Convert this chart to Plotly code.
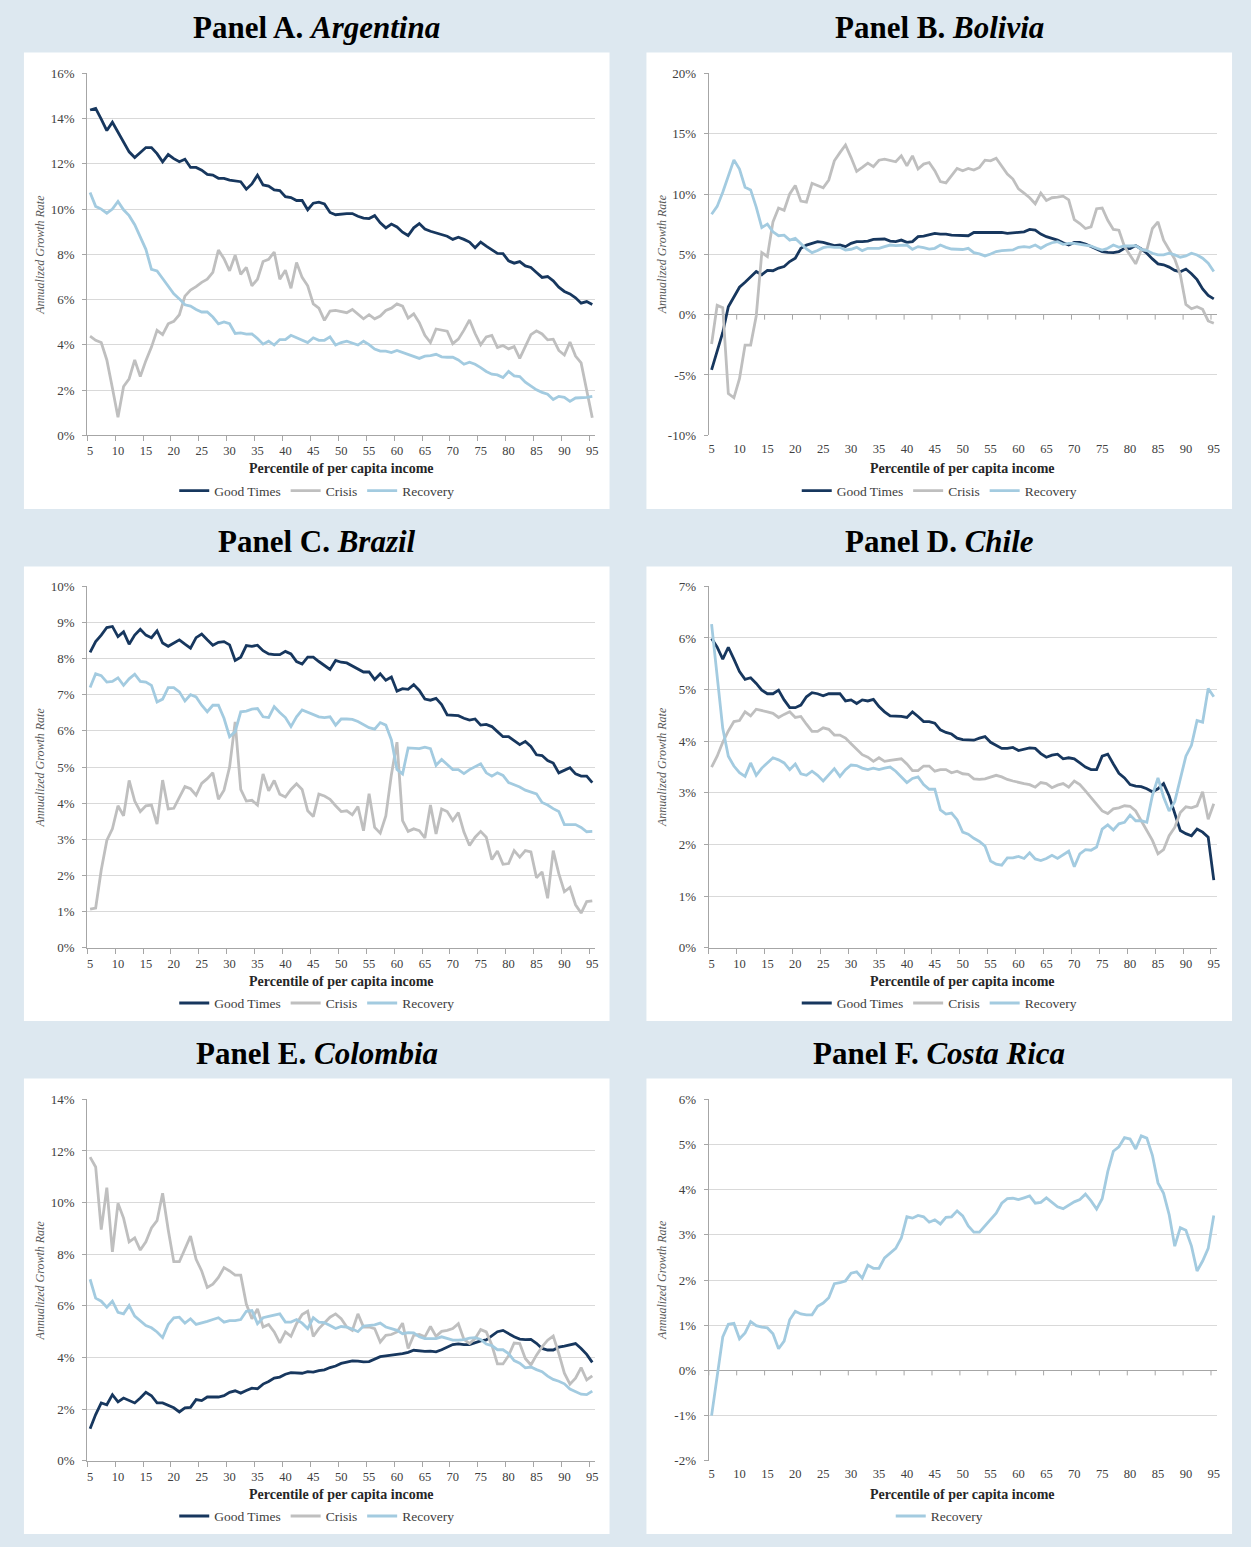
import plotly.graph_objects as go

W, H = 1251, 1547

# Percentiles of per capita income on the category axis
PCT = list(range(5, 96))
X_TICKS = list(range(5, 96, 5))

# ---------------- Panel A. Argentina ----------------
ARG_GOOD = [14.38, 14.45, 13.98, 13.47, 13.84, 13.4, 12.92, 12.53, 12.28, 12.48,
            12.72, 12.72, 12.45, 12.09, 12.41, 12.23, 12.09, 12.2, 11.84, 11.84,
            11.72, 11.53, 11.5, 11.36, 11.36, 11.28, 11.26, 11.21, 10.88, 11.11,
            11.5, 11.07, 11.02, 10.85, 10.82, 10.55, 10.51, 10.38, 10.38, 9.97,
            10.26, 10.31, 10.23, 9.85, 9.75, 9.78, 9.8, 9.8, 9.68, 9.6,
            9.58, 9.71, 9.39, 9.17, 9.34, 9.21, 8.98, 8.83, 9.17, 9.36,
            9.12, 9.02, 8.95, 8.85, 8.8, 8.66, 8.76, 8.66, 8.54, 8.29,
            8.54, 8.36, 8.19, 8.04, 8.03, 7.71, 7.61, 7.68, 7.49, 7.42,
            7.2, 6.98, 7.02, 6.83, 6.55, 6.36, 6.25, 6.08, 5.84, 5.91,
            5.78]
ARG_CRISIS = [4.38, 4.2, 4.1, 3.33, 2.09, 0.8, 2.16, 2.5, 3.33, 2.6,
              3.3, 3.9, 4.64, 4.45, 4.93, 5.04, 5.33, 6.15, 6.42, 6.57,
              6.76, 6.9, 7.2, 8.19, 7.81, 7.27, 7.96, 7.12, 7.42, 6.61,
              6.9, 7.68, 7.78, 8.1, 6.9, 7.3, 6.5, 7.64, 6.98, 6.61,
              5.81, 5.62, 5.08, 5.49, 5.52, 5.47, 5.42, 5.56, 5.37, 5.15,
              5.33, 5.15, 5.27, 5.52, 5.62, 5.81, 5.71, 5.18, 5.37, 4.98,
              4.42, 4.1, 4.7, 4.64, 4.6, 4.05, 4.25, 4.65, 5.1, 4.5,
              4.0, 4.35, 4.42, 3.88, 3.97, 3.82, 3.92, 3.4, 3.95, 4.45,
              4.62, 4.48, 4.22, 4.25, 3.75, 3.55, 4.12, 3.5, 3.2, 2.0,
              0.78]
ARG_RECOVERY = [10.73, 10.12, 10.0, 9.82, 10.0, 10.34, 9.97, 9.71, 9.31, 8.8,
                8.22, 7.34, 7.27, 6.93, 6.57, 6.25, 6.03, 5.77, 5.71, 5.56,
                5.45, 5.45, 5.23, 4.93, 5.01, 4.93, 4.5, 4.53, 4.47, 4.48,
                4.28, 4.03, 4.16, 3.99, 4.23, 4.23, 4.42, 4.31, 4.2, 4.1,
                4.31, 4.2, 4.2, 4.35, 3.99, 4.1, 4.16, 4.06, 3.99, 4.16,
                4.01, 3.81, 3.72, 3.72, 3.66, 3.75, 3.66, 3.58, 3.47, 3.4,
                3.5, 3.52, 3.58, 3.47, 3.45, 3.45, 3.33, 3.14, 3.23, 3.14,
                2.99, 2.82, 2.7, 2.67, 2.55, 2.82, 2.63, 2.6, 2.35, 2.16,
                2.01, 1.9, 1.82, 1.58, 1.72, 1.68, 1.5, 1.65, 1.65, 1.68,
                1.72]

# ---------------- Panel B. Bolivia ----------------
BOL_GOOD = [-4.57, -3.12, -1.48, 0.66, 1.53, 2.27, 2.68, 3.17, 3.58, 3.31,
            3.67, 3.64, 3.86, 3.99, 4.4, 4.68, 5.5, 5.77, 5.91, 6.05,
            5.99, 5.86, 5.72, 5.77, 5.64, 5.91, 6.05, 6.05, 6.1, 6.24,
            6.27, 6.27, 6.1, 6.05, 6.18, 5.99, 6.05, 6.46, 6.51, 6.59,
            6.73, 6.68, 6.68, 6.59, 6.59, 6.6, 6.54, 6.81, 6.81, 6.81,
            6.81, 6.87, 6.81, 6.73, 6.79, 6.79, 6.87, 7.06, 7.0, 6.68,
            6.46, 6.32, 6.18, 5.96, 5.77, 5.99, 5.99, 5.86, 5.64, 5.42,
            5.23, 5.17, 5.14, 5.23, 5.5, 5.47, 5.72, 5.44, 5.09, 4.62,
            4.21, 4.13, 3.94, 3.67, 3.56, 3.78, 3.39, 2.9, 2.13, 1.59,
            1.31]
BOL_CRISIS = [-2.43, 0.77, 0.57, -6.54, -6.89, -5.31, -2.52, -2.52, -0.11, 5.14,
              4.82, 7.69, 8.84, 8.65, 10.01, 10.7, 9.41, 9.33, 10.89, 10.7,
              10.51, 11.16, 12.75, 13.43, 14.06, 13.02, 11.87, 12.2, 12.56, 12.26,
              12.8, 12.89, 12.75, 12.67, 13.16, 12.34, 13.16, 12.07, 12.48, 12.61,
              11.93, 11.03, 10.92, 11.52, 12.12, 11.93, 12.12, 11.98, 12.2, 12.8,
              12.75, 12.97, 12.26, 11.66, 11.24, 10.42, 10.07, 9.69, 9.19, 10.07,
              9.47, 9.69, 9.74, 9.82, 9.52, 7.88, 7.55, 7.14, 7.28, 8.78,
              8.84, 7.82, 7.06, 7.0, 5.64, 4.95, 4.21, 5.36, 5.36, 7.14,
              7.69, 6.18, 5.36, 4.6, 3.31, 0.85, 0.49, 0.66, 0.44, -0.52,
              -0.71]
BOL_RECOVERY = [8.32, 8.97, 10.15, 11.49, 12.83, 12.07, 10.56, 10.34, 8.92, 7.22,
                7.5, 6.87, 6.54, 6.59, 6.18, 6.32, 5.91, 5.44, 5.14, 5.31,
                5.55, 5.64, 5.58, 5.58, 5.36, 5.42, 5.58, 5.31, 5.5, 5.5,
                5.5, 5.64, 5.77, 5.72, 5.72, 5.77, 5.42, 5.64, 5.55, 5.44,
                5.5, 5.77, 5.58, 5.44, 5.42, 5.4, 5.5, 5.14, 5.03, 4.87,
                5.03, 5.23, 5.31, 5.36, 5.36, 5.58, 5.64, 5.58, 5.77, 5.5,
                5.77, 5.96, 6.05, 5.83, 5.91, 5.91, 5.83, 5.72, 5.69, 5.5,
                5.36, 5.5, 5.77, 5.58, 5.69, 5.69, 5.72, 5.42, 5.31, 5.09,
                4.95, 4.95, 5.09, 4.95, 4.76, 4.87, 5.09, 4.95, 4.68, 4.27,
                3.58]

# ---------------- Panel C. Brazil ----------------
BRA_GOOD = [8.17, 8.47, 8.65, 8.86, 8.89, 8.61, 8.74, 8.4, 8.65, 8.81,
            8.65, 8.58, 8.77, 8.43, 8.34, 8.43, 8.52, 8.4, 8.29, 8.58,
            8.68, 8.52, 8.37, 8.45, 8.47, 8.38, 7.95, 8.04, 8.36, 8.34,
            8.37, 8.22, 8.13, 8.11, 8.11, 8.2, 8.13, 7.92, 7.85, 8.04,
            8.04, 7.92, 7.81, 7.7, 7.95, 7.9, 7.88, 7.79, 7.72, 7.63,
            7.63, 7.42, 7.58, 7.4, 7.49, 7.1, 7.17, 7.15, 7.28, 7.12,
            6.88, 6.85, 6.9, 6.73, 6.44, 6.44, 6.42, 6.35, 6.3, 6.33,
            6.16, 6.18, 6.12, 5.98, 5.84, 5.84, 5.73, 5.62, 5.71, 5.57,
            5.34, 5.32, 5.18, 5.11, 4.84, 4.9, 4.98, 4.81, 4.75, 4.75,
            4.57]
BRA_CRISIS = [1.07, 1.1, 2.15, 2.97, 3.29, 3.93, 3.65, 4.63, 4.06, 3.77,
              3.93, 3.95, 3.42, 4.64, 3.84, 3.86, 4.16, 4.46, 4.4, 4.22,
              4.55, 4.68, 4.84, 4.11, 4.36, 5.0, 6.25, 4.38, 4.06, 4.08,
              3.95, 4.81, 4.34, 4.63, 4.25, 4.17, 4.38, 4.54, 4.38, 3.79,
              3.63, 4.25, 4.2, 4.11, 3.93, 3.77, 3.79, 3.68, 3.91, 3.24,
              4.26, 3.33, 3.17, 3.65, 4.79, 5.69, 3.52, 3.22, 3.29, 3.24,
              3.04, 3.95, 3.15, 3.84, 3.77, 3.52, 3.74, 3.2, 2.83, 3.06,
              3.22, 3.06, 2.44, 2.68, 2.31, 2.33, 2.69, 2.51, 2.69, 2.65,
              1.94, 2.1, 1.37, 2.69, 2.05, 1.55, 1.67, 1.19, 0.96, 1.28,
              1.3]
BRA_RECOVERY = [7.2, 7.58, 7.53, 7.35, 7.37, 7.47, 7.26, 7.44, 7.57, 7.37,
                7.35, 7.26, 6.8, 6.88, 7.2, 7.2, 7.08, 6.83, 7.0, 6.94,
                6.71, 6.53, 6.71, 6.71, 6.35, 5.84, 5.98, 6.53, 6.55, 6.6,
                6.62, 6.39, 6.37, 6.67, 6.51, 6.37, 6.12, 6.39, 6.58, 6.51,
                6.46, 6.39, 6.37, 6.39, 6.16, 6.33, 6.33, 6.32, 6.26, 6.18,
                6.09, 6.05, 6.23, 6.16, 5.75, 4.93, 4.81, 5.53, 5.53, 5.51,
                5.55, 5.51, 5.05, 5.21, 5.07, 4.93, 4.93, 4.82, 4.93, 5.02,
                5.09, 4.84, 4.75, 4.84, 4.77, 4.57, 4.52, 4.45, 4.36, 4.32,
                4.26, 4.02, 3.95, 3.85, 3.77, 3.41, 3.42, 3.41, 3.33, 3.21,
                3.22]

# ---------------- Panel D. Chile ----------------
CHL_GOOD = [5.99, 5.82, 5.59, 5.82, 5.59, 5.35, 5.2, 5.23, 5.12, 4.99,
            4.92, 4.92, 4.99, 4.8, 4.65, 4.65, 4.7, 4.86, 4.94, 4.92,
            4.88, 4.92, 4.92, 4.92, 4.78, 4.8, 4.73, 4.8, 4.78, 4.81,
            4.67, 4.57, 4.49, 4.49, 4.48, 4.46, 4.57, 4.48, 4.38, 4.38,
            4.35, 4.22, 4.17, 4.14, 4.06, 4.03, 4.03, 4.02, 4.06, 4.09,
            3.98, 3.92, 3.86, 3.86, 3.88, 3.82, 3.84, 3.87, 3.86, 3.76,
            3.69, 3.73, 3.75, 3.66, 3.68, 3.66, 3.58, 3.5, 3.45, 3.45,
            3.71, 3.75, 3.56, 3.38, 3.29, 3.16, 3.13, 3.12, 3.08, 3.02,
            3.08, 3.18, 2.94, 2.6, 2.27, 2.21, 2.17, 2.3, 2.24, 2.14,
            1.31]
CHL_CRISIS = [3.5, 3.71, 3.98, 4.2, 4.38, 4.4, 4.57, 4.49, 4.62, 4.6,
              4.57, 4.54, 4.46, 4.52, 4.57, 4.46, 4.48, 4.33, 4.19, 4.19,
              4.26, 4.23, 4.12, 4.12, 4.06, 3.95, 3.84, 3.74, 3.69, 3.61,
              3.68, 3.61, 3.63, 3.64, 3.66, 3.56, 3.43, 3.43, 3.52, 3.52,
              3.42, 3.45, 3.45, 3.39, 3.42, 3.37, 3.36, 3.27, 3.26, 3.27,
              3.31, 3.34, 3.31, 3.26, 3.23, 3.2, 3.18, 3.16, 3.11, 3.2,
              3.18, 3.1, 3.15, 3.18, 3.11, 3.23, 3.16, 3.04, 2.91, 2.78,
              2.65, 2.6, 2.69, 2.71, 2.75, 2.74, 2.65, 2.46, 2.28, 2.08,
              1.82, 1.9, 2.17, 2.33, 2.62, 2.73, 2.71, 2.75, 3.02, 2.49,
              2.79]
CHL_RECOVERY = [6.27, 5.27, 4.25, 3.71, 3.52, 3.39, 3.32, 3.58, 3.34, 3.48,
                3.58, 3.68, 3.64, 3.58, 3.45, 3.56, 3.37, 3.34, 3.42, 3.34,
                3.23, 3.34, 3.47, 3.32, 3.45, 3.54, 3.53, 3.48, 3.45, 3.48,
                3.45, 3.48, 3.5, 3.42, 3.31, 3.2, 3.28, 3.31, 3.16, 3.07,
                3.07, 2.67, 2.59, 2.61, 2.48, 2.24, 2.2, 2.12, 2.06, 1.97,
                1.68, 1.62, 1.6, 1.74, 1.74, 1.77, 1.73, 1.84, 1.72, 1.69,
                1.73, 1.79, 1.73, 1.8, 1.87, 1.57, 1.82, 1.9, 1.89, 1.95,
                2.3, 2.38, 2.28, 2.4, 2.43, 2.57, 2.46, 2.46, 2.43, 2.95,
                3.29, 2.92, 2.65, 2.83, 3.29, 3.71, 3.92, 4.4, 4.37, 5.02,
                4.86]

# ---------------- Panel E. Colombia ----------------
COL_GOOD = [1.24, 1.79, 2.24, 2.17, 2.56, 2.28, 2.43, 2.34, 2.24, 2.43,
            2.65, 2.52, 2.24, 2.24, 2.14, 2.05, 1.89, 2.05, 2.07, 2.37,
            2.33, 2.47, 2.47, 2.47, 2.52, 2.65, 2.71, 2.62, 2.72, 2.81,
            2.79, 2.97, 3.07, 3.2, 3.24, 3.35, 3.41, 3.39, 3.39, 3.45,
            3.43, 3.49, 3.52, 3.61, 3.67, 3.77, 3.83, 3.87, 3.86, 3.83,
            3.84, 3.94, 4.03, 4.06, 4.08, 4.12, 4.15, 4.2, 4.28, 4.25,
            4.24, 4.25, 4.22, 4.3, 4.4, 4.5, 4.53, 4.5, 4.5, 4.58,
            4.64, 4.68, 4.85, 5.0, 5.05, 4.92, 4.8, 4.71, 4.69, 4.7,
            4.55, 4.35, 4.29, 4.29, 4.4, 4.44, 4.5, 4.54, 4.35, 4.12,
            3.81]
COL_CRISIS = [11.76, 11.38, 8.95, 10.58, 8.09, 9.97, 9.4, 8.48, 8.63, 8.16,
              8.48, 9.02, 9.3, 10.36, 8.95, 7.71, 7.71, 8.18, 8.7, 7.8,
              7.35, 6.71, 6.84, 7.1, 7.48, 7.35, 7.19, 7.19, 6.07, 5.5,
              5.88, 5.18, 5.28, 4.99, 4.57, 4.99, 4.82, 5.31, 5.66, 5.79,
              4.82, 5.12, 5.33, 5.56, 5.69, 5.5, 5.18, 5.05, 5.69, 5.18,
              5.18, 5.12, 4.6, 4.86, 4.89, 4.99, 5.33, 4.35, 4.86, 4.89,
              4.8, 5.2, 4.82, 5.01, 5.05, 5.12, 5.31, 4.7, 4.54, 4.73,
              5.08, 4.99, 4.48, 3.75, 3.75, 4.07, 4.56, 4.54, 3.96, 3.71,
              4.09, 4.41, 4.67, 4.83, 4.16, 3.39, 2.97, 3.2, 3.61, 3.13,
              3.29]
COL_RECOVERY = [7.03, 6.3, 6.18, 5.95, 6.18, 5.75, 5.69, 6.01, 5.6, 5.41,
                5.24, 5.15, 4.99, 4.77, 5.28, 5.54, 5.56, 5.33, 5.5, 5.28,
                5.33, 5.4, 5.47, 5.54, 5.37, 5.43, 5.43, 5.47, 5.79, 5.82,
                5.31, 5.54, 5.59, 5.63, 5.69, 5.37, 5.37, 5.47, 5.33, 5.12,
                5.54, 5.37, 5.35, 5.24, 5.12, 5.2, 5.18, 5.1, 5.0, 5.22,
                5.24, 5.26, 5.33, 5.18, 5.12, 5.05, 4.92, 4.96, 4.95, 4.8,
                4.73, 4.73, 4.73, 4.8, 4.72, 4.67, 4.67, 4.69, 4.75, 4.77,
                4.7, 4.52, 4.46, 4.3, 4.3, 4.15, 3.88, 3.78, 3.6, 3.63,
                3.53, 3.45, 3.28, 3.15, 3.08, 2.98, 2.78, 2.68, 2.58, 2.56,
                2.7]

# ---------------- Panel F. Costa Rica ----------------
CRI_RECOVERY = [-1.0, -0.1, 0.74, 1.02, 1.04, 0.7, 0.83, 1.08, 0.99, 0.96,
                0.94, 0.81, 0.48, 0.65, 1.12, 1.31, 1.25, 1.23, 1.23, 1.42,
                1.49, 1.61, 1.92, 1.94, 1.98, 2.15, 2.18, 2.04, 2.33, 2.26,
                2.26, 2.49, 2.6, 2.7, 2.93, 3.4, 3.37, 3.43, 3.4, 3.28,
                3.33, 3.24, 3.39, 3.4, 3.53, 3.42, 3.2, 3.06, 3.06, 3.2,
                3.32, 3.48, 3.7, 3.8, 3.81, 3.78, 3.82, 3.86, 3.7, 3.72,
                3.82, 3.72, 3.62, 3.58, 3.65, 3.73, 3.78, 3.9, 3.75, 3.57,
                3.8, 4.4, 4.85, 4.95, 5.15, 5.12, 4.9, 5.19, 5.14, 4.76,
                4.15, 3.92, 3.45, 2.75, 3.16, 3.1, 2.75, 2.2, 2.42, 2.7,
                3.43]

COLORS = {"Good Times": "#17375E", "Crisis": "#BFBFBF", "Recovery": "#A3CBE0"}

PANELS = [
    dict(letter="A", country="Argentina", col=0, row=0, ymin=0, ymax=16, step=2,
         series={"Good Times": ARG_GOOD, "Crisis": ARG_CRISIS, "Recovery": ARG_RECOVERY}),
    dict(letter="B", country="Bolivia", col=1, row=0, ymin=-10, ymax=20, step=5,
         series={"Good Times": BOL_GOOD, "Crisis": BOL_CRISIS, "Recovery": BOL_RECOVERY}),
    dict(letter="C", country="Brazil", col=0, row=1, ymin=0, ymax=10, step=1,
         series={"Good Times": BRA_GOOD, "Crisis": BRA_CRISIS, "Recovery": BRA_RECOVERY}),
    dict(letter="D", country="Chile", col=1, row=1, ymin=0, ymax=7, step=1,
         series={"Good Times": CHL_GOOD, "Crisis": CHL_CRISIS, "Recovery": CHL_RECOVERY}),
    dict(letter="E", country="Colombia", col=0, row=2, ymin=0, ymax=14, step=2,
         series={"Good Times": COL_GOOD, "Crisis": COL_CRISIS, "Recovery": COL_RECOVERY}),
    dict(letter="F", country="Costa Rica", col=1, row=2, ymin=-2, ymax=6, step=1,
         series={"Recovery": CRI_RECOVERY}),
]

# Page geometry in pixels
PLOT_X = [(87.5, 596.5), (710.5, 1219.5)]
PLOT_Y = [(67, 432.5), (585, 950), (1103, 1468)]
BOX_X = [(24, 611), (648, 1235)]
BOX_Y = [(46, 507), (565, 1024), (1082, 1542)]


def fx(p):
    return p / W


def fy(p):
    return 1 - p / H


FONT = "Liberation Serif"
AXIS_GREY = "#A6A6A6"
GRID_GREY = "#D9D9D9"
TEXT_GREY = "#404040"

fig = go.Figure()
shapes = []
annotations = []
layout = {}

for k, pnl in enumerate(PANELS, start=1):
    sfx = "" if k == 1 else str(k)
    xname, yname = "x" + sfx, "y" + sfx
    legname = "legend" + sfx
    c, r = pnl["col"], pnl["row"]
    x0, x1 = PLOT_X[c]
    ytop, ybot = PLOT_Y[r]
    bx0, bx1 = BOX_X[c]
    by0, by1 = BOX_Y[r]

    # white panel background
    shapes.append(dict(type="rect", xref="paper", yref="paper",
                       x0=fx(bx0), x1=fx(bx1), y0=fy(by1), y1=fy(by0),
                       fillcolor="white", line=dict(width=0), layer="below"))

    for name, vals in pnl["series"].items():
        fig.add_trace(go.Scatter(
            x=PCT, y=vals, mode="lines", name=name,
            line=dict(color=COLORS[name], width=2.8),
            xaxis=xname, yaxis=yname, legend=legname, hoverinfo="skip"))

    yticks = list(range(pnl["ymin"], pnl["ymax"] + 1, pnl["step"]))
    crosses_zero = pnl["ymin"] < 0
    boundaries = [p - 0.5 for p in X_TICKS]

    layout["xaxis" + sfx] = dict(
        domain=[fx(x0), fx(x1)], anchor=yname, range=[4.5, 95.5],
        tickmode="array", tickvals=X_TICKS, ticktext=[str(v) for v in X_TICKS],
        ticks="", showgrid=False, zeroline=False,
        showline=not crosses_zero, linecolor=AXIS_GREY, linewidth=1.3,
        ticklabelstandoff=4,
        tickfont=dict(family=FONT, size=12.5, color=TEXT_GREY),
        minor=dict(tickmode="array", tickvals=[] if crosses_zero else boundaries,
                   ticks="outside", ticklen=5, tickcolor=AXIS_GREY, tickwidth=1,
                   showgrid=False),
        fixedrange=True)
    layout["yaxis" + sfx] = dict(
        domain=[fy(ybot), fy(ytop)], anchor=xname,
        range=[pnl["ymin"], pnl["ymax"]],
        tickmode="array", tickvals=yticks, ticktext=[f"{v}%" for v in yticks],
        ticks="outside", ticklen=4, tickcolor=AXIS_GREY,
        ticklabelstandoff=5,
        showgrid=True, gridcolor=GRID_GREY, gridwidth=1,
        showline=True, linecolor=AXIS_GREY, linewidth=1.3,
        zeroline=crosses_zero, zerolinecolor=AXIS_GREY, zerolinewidth=1.3,
        tickfont=dict(family=FONT, size=13, color=TEXT_GREY),
        fixedrange=True)

    # tick marks hanging from the zero line when the axis crosses zero
    if crosses_zero:
        for b in boundaries:
            shapes.append(dict(type="line", xref=xname, yref=yname,
                               x0=b, x1=b, ysizemode="pixel", yanchor=0,
                               y0=0, y1=-5, line=dict(color=AXIS_GREY, width=1)))

    # panel title
    annotations.append(dict(
        xref="paper", yref="paper", x=fx((bx0 + bx1) / 2), y=fy(by0 - 25),
        text=f"<b>Panel {pnl['letter']}. <i>{pnl['country']}</i></b>",
        showarrow=False, xanchor="center", yanchor="middle",
        font=dict(family=FONT, size=31, color="#000000")))
    # y-axis title
    annotations.append(dict(
        xref="paper", yref="paper", x=fx(x0 - 47), y=fy((ytop + ybot) / 2),
        text="<i>Annualized Growth Rate</i>", textangle=-90, showarrow=False,
        xanchor="center", yanchor="middle",
        font=dict(family=FONT, size=12, color="#595959")))
    # x-axis title
    annotations.append(dict(
        xref="paper", yref="paper", x=fx((x0 + x1) / 2), y=fy(ybot + 34),
        text="<b>Percentile of per capita income</b>", showarrow=False,
        xanchor="center", yanchor="middle",
        font=dict(family=FONT, size=14, color="#262626")))

    layout[legname] = dict(
        orientation="h", x=fx((bx0 + bx1) / 2), xanchor="center",
        y=fy(ybot + 56), yanchor="middle", bgcolor="rgba(0,0,0,0)",
        font=dict(family=FONT, size=13.5, color=TEXT_GREY),
        itemwidth=30, tracegroupgap=0)

fig.update_layout(
    width=W, height=H, margin=dict(l=0, r=0, t=0, b=0),
    paper_bgcolor="#DDE8F0", plot_bgcolor="white",
    font=dict(family=FONT, color=TEXT_GREY),
    shapes=shapes, annotations=annotations, showlegend=True,
    **layout)

fig.write_html("out.html")
